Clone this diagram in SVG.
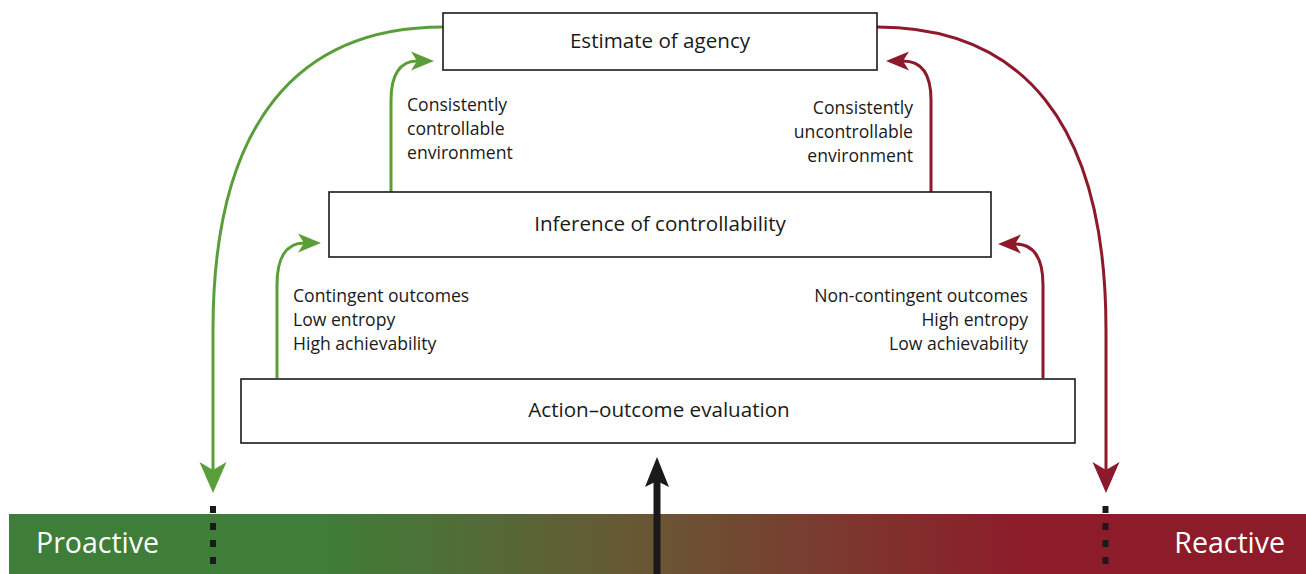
<svg xmlns="http://www.w3.org/2000/svg" width="1306" height="574" viewBox="0 0 1306 574">
<style>
.box{fill:#fff;stroke:#1a1a1a;stroke-width:1.6}
.bt{font-family:"Open Sans","Noto Sans",sans-serif;font-size:20.6px;fill:#1a1a1a;text-anchor:middle}
.lb{font-family:"Open Sans","Noto Sans",sans-serif;font-size:17.6px;fill:#1a1a1a}
.r{text-anchor:end}
.g{fill:none;stroke:#5a9e3b;stroke-width:3}
.rd{fill:none;stroke:#8c1a2b;stroke-width:3}
.bar{font-family:"Open Sans","Noto Sans",sans-serif;font-size:28.5px;fill:#fff}
.dots{stroke:#1a1a1a;stroke-width:6;stroke-dasharray:7 10}
</style>
<defs>
<linearGradient id="grad" x1="0" y1="0" x2="1" y2="0">
<stop offset="0.24" stop-color="#3e7e38"/>
<stop offset="0.5" stop-color="#6a5533"/>
<stop offset="0.78" stop-color="#8d1c2a"/>
</linearGradient>
<marker id="ahG" markerUnits="userSpaceOnUse" orient="auto" overflow="visible" refX="0" refY="0"><path d="M23,0 L-8,-13.5 L0,0 L-8,13.5 Z" fill="#5a9e3b"/></marker>
<marker id="ahR" markerUnits="userSpaceOnUse" orient="auto" overflow="visible" refX="0" refY="0"><path d="M23,0 L-8,-13.5 L0,0 L-8,13.5 Z" fill="#8c1a2b"/></marker>
<marker id="asG" markerUnits="userSpaceOnUse" orient="auto" overflow="visible" refX="0" refY="0"><path d="M17,0 L-6,-9.5 L0,0 L-6,9.5 Z" fill="#5a9e3b"/></marker>
<marker id="asR" markerUnits="userSpaceOnUse" orient="auto" overflow="visible" refX="0" refY="0"><path d="M17,0 L-6,-9.5 L0,0 L-6,9.5 Z" fill="#8c1a2b"/></marker>
<marker id="aK" markerUnits="userSpaceOnUse" orient="auto" overflow="visible" refX="0" refY="0"><path d="M24,0 L-6,-12 L0,0 L-6,12 Z" fill="#1a1a1a"/></marker>
</defs>
<rect x="0" y="0" width="1306" height="574" fill="#fff"/>
<g id="scale">
<rect x="9" y="514" width="1297" height="60" fill="url(#grad)"/>
<text class="bar" x="36" y="553">Proactive</text>
<text class="bar" x="1285" y="553" text-anchor="end">Reactive</text>
<line class="dots" x1="213" y1="506" x2="213" y2="574"/>
<line class="dots" x1="1105.5" y1="506" x2="1105.5" y2="574"/>
</g>
<g id="connectors">
<path class="g" d="M443,27 C300,27 213,120 213,330 L213,470" marker-end="url(#ahG)"/>
<path class="rd" d="M877,27 C1020,27 1106,120 1106,330 L1106,470" marker-end="url(#ahR)"/>
<path class="g" d="M277,378 L277,285 C277,258 286,243 304,243" marker-end="url(#asG)"/>
<path class="g" d="M391,192 L391,100 C391,75 400,61 417,61" marker-end="url(#asG)"/>
<path class="rd" d="M931,192 L931,100 C931,75 922,61 903,61" marker-end="url(#asR)"/>
<path class="rd" d="M1043,378 L1043,285 C1043,258 1034,244 1015,244" marker-end="url(#asR)"/>
<path d="M657,574 L657,481" stroke="#1a1a1a" stroke-width="7" fill="none" marker-end="url(#aK)"/>
</g>
<g id="estimate">
<rect class="box" x="443" y="13" width="434" height="57"/>
<text class="bt" x="660" y="48">Estimate of agency</text>
</g>
<g id="inference">
<rect class="box" x="329" y="192" width="662" height="65"/>
<text class="bt" x="660" y="231">Inference of controllability</text>
</g>
<g id="action">
<rect class="box" x="241" y="379" width="834" height="64"/>
<text class="bt" x="659" y="417">Action–outcome evaluation</text>
</g>
<g id="labels">
<text class="lb" x="407"><tspan x="407" y="111">Consistently</tspan><tspan x="407" y="135">controllable</tspan><tspan x="407" y="159">environment</tspan></text>
<text class="lb r"><tspan x="913" y="114">Consistently</tspan><tspan x="913" y="138">uncontrollable</tspan><tspan x="913" y="162">environment</tspan></text>
<text class="lb"><tspan x="293" y="302">Contingent outcomes</tspan><tspan x="293" y="326">Low entropy</tspan><tspan x="293" y="350">High achievability</tspan></text>
<text class="lb r"><tspan x="1028" y="302">Non-contingent outcomes</tspan><tspan x="1028" y="326">High entropy</tspan><tspan x="1028" y="350">Low achievability</tspan></text>
</g>
</svg>
